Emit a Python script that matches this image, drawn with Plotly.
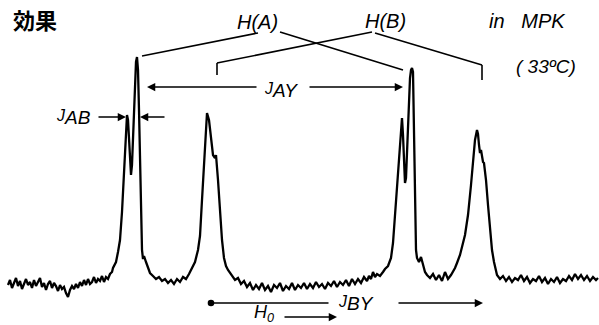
import plotly.graph_objects as go

# Spectrum trace (x: field position, y: pen position, downward axis)
spectrum_x = [8,10,12,14,16,18,20,22,24,26,28,30,32,34,36,38,40,42,44,46,48,50,52,54,56,58,60,62,64,66,68,70,72,74,76,78,80,82,84,86,88,90,92,94,96,98,100,102,104,106,108,110,112,
              113,116,118,120,122,124,126,127,128,129,130,131,132,133,134,135,136,137,138,139,140,141,142,143,144,146,148,150,153,156,159,162,165,168,171,174,177,180,183,186,189,191,193,
              195,198,200,202,204,206,207,209,211,213,215,216,218,220,222,224,226,228,231,233,235,238,241,244,247,250,253,256,259,262,265,268,271,274,277,280,283,286,289,292,295,298,
              301,304,307,310,313,316,319,322,325,328,331,334,337,340,343,346,349,352,355,358,361,364,367,369,371,373,375,377,380,383,
              385,388,391,393,395,397,399,401,402,403,404,405,406,407,408,409,410,411,412,413,414,415,416,417,419,421,423,425,427,430,433,436,439,442,445,448,451,453,455,
              457,460,465,468,471,473,475,477,478,479,480,481,482,483,484,486,488,490,492,494,497,500,503,506,509,512,515,518,521,524,527,530,533,536,539,542,545,548,551,554,557,560,563,566,569,572,575,578,581,584,587,590,593,596,598]
spectrum_y = [285,280,288,283,278,286,281,289,284,279,285,282,288,280,286,282,278,287,283,290,284,281,288,283,286,291,285,289,287,293,297,290,286,289,284,288,282,286,280,285,279,284,282,277,283,279,281,276,282,277,279,274,272,
              268,262,252,240,212,175,130,115,120,140,163,175,165,135,105,80,62,57,70,110,165,215,250,259,256,262,268,273,276,279,277,281,279,283,280,284,279,282,277,279,274,270,266,
              262,250,236,200,160,125,113,120,140,155,158,155,180,215,240,258,266,270,274,277,280,278,284,281,287,283,290,285,289,283,290,286,292,285,288,283,291,286,289,283,290,285,
              288,283,289,284,288,282,287,284,289,283,286,281,287,282,285,280,286,279,284,279,283,277,281,276,279,272,277,274,276,272,
              269,266,258,243,215,180,150,125,118,135,165,183,178,150,120,95,78,70,68,72,120,200,250,258,262,257,265,272,275,278,274,280,275,281,272,279,275,272,268,
              263,255,235,215,185,160,140,130,134,145,153,150,155,162,163,180,205,232,250,262,275,279,276,281,277,282,278,280,275,281,277,283,279,281,276,282,278,284,279,282,277,283,279,281,276,280,274,279,275,280,276,281,277,280,278]

# Annotation labels
title_text = "効果"
group_labels = ["<i>H(A)</i>", "<i>H(B)</i>"]
solvent_label = "<i>in   MPK</i>"
temp_label = "<i>( 33ºC)</i>"
big = "<span style='font-size:19px'>{}</span>"
coupling_labels = ["<i>J<sub>" + big.format("AB") + "</sub></i>",
                   "<i>J<sub>" + big.format("AY") + "</sub></i>",
                   "<i>J<sub>" + big.format("BY") + "</sub></i>"]
field_label = "<i>H<sub>0</sub></i>"

fig = go.Figure()
fig.add_trace(go.Scatter(x=spectrum_x, y=spectrum_y, mode="lines",
                         line=dict(color="black", width=2.3), hoverinfo="skip", showlegend=False))

line_style = dict(color="black", width=1.6)
segments = [
    (142, 56, 258, 33), (280, 32, 403, 70),
    (372, 32, 217, 63), (217, 63, 217, 75),
    (375, 33, 482, 65), (482, 65, 482, 80),
]
for x0, y0, x1, y1 in segments:
    fig.add_shape(type="line", x0=x0, y0=y0, x1=x1, y1=y1, xref="x", yref="y", line=line_style)

def arrow(x_head, y_head, x_tail, y_tail, head=2):
    fig.add_annotation(x=x_head, y=y_head, ax=x_tail, ay=y_tail, xref="x", yref="y",
                       axref="x", ayref="y", text="", showarrow=True, arrowhead=head,
                       arrowsize=1.1, arrowwidth=1.5, arrowcolor="black")

arrow(147, 87, 258, 87)
arrow(403, 87, 308, 87)
arrow(126, 117, 97, 117)
arrow(140, 117, 166, 117)
arrow(211, 303, 330, 303, head=6)
arrow(483, 303, 397, 303)
arrow(337, 317, 283, 317)

def label(x, y, text, size=19, family="Liberation Sans, Arial"):
    fig.add_annotation(x=x, y=y, xref="x", yref="y", text=text, showarrow=False,
                       font=dict(family=family, size=size, color="black"))

label(35, 19, "<b>" + title_text + "</b>", size=22, family="Noto Sans CJK JP")
label(257, 22, group_labels[0], size=20)
label(385, 21, group_labels[1], size=20)
label(527, 21, solvent_label, size=20)
label(546, 66, temp_label, size=19)
label(73, 117, coupling_labels[0], size=16)
label(281, 90, coupling_labels[1], size=16)
label(356, 303, coupling_labels[2], size=16)
label(264, 313, field_label, size=18)

fig.update_layout(
    width=599, height=325, margin=dict(l=0, r=0, t=0, b=0),
    paper_bgcolor="white", plot_bgcolor="white",
    xaxis=dict(range=[0, 599], visible=False, fixedrange=True),
    yaxis=dict(range=[325, 0], visible=False, fixedrange=True),
)
fig.write_html("out.html")
